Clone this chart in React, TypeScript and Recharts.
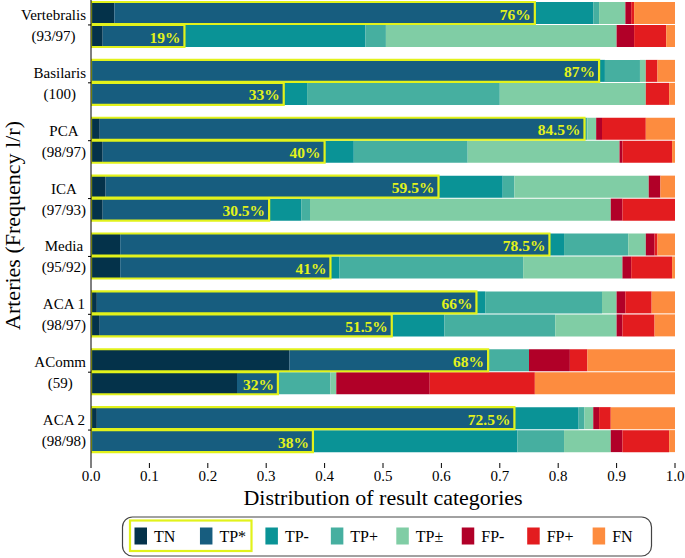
import React from 'react';
import { BarChart, Bar, XAxis, YAxis, LabelList } from 'recharts';

// ─── Data ───────────────────────────────────────────────────────────────────
const arteries = ['Vertebralis', 'Basilaris', 'PCA', 'ICA', 'Media', 'ACA 1', 'AComm', 'ACA 2'];
const frequencies = ['(93/97)', '(100)', '(98/97)', '(97/93)', '(95/92)', '(98/97)', '(59)', '(98/98)'];

const categories = ['TN', 'TP*', 'TP-', 'TP+', 'TP±', 'FP-', 'FP+', 'FN'];
const colors = ['#04324a', '#175d7f', '#0a9396', '#46afa0', '#80cda5', '#b10028', '#e31c1f', '#fd8c3f'];

// left side (l)
const tnL = [0.04, 0, 0.015, 0.025, 0.05, 0.01, 0.34, 0.01];
const tpStarL = [0.72, 0.87, 0.83, 0.57, 0.735, 0.65, 0.34, 0.715];
const tpMinusL = [0.1, 0.01, 0, 0.11, 0.025, 0.015, 0, 0.11];
const tpPlusL = [0.01, 0.06, 0.005, 0.02, 0.11, 0.2, 0.07, 0.01];
const tpPmL = [0.045, 0.01, 0.015, 0.23, 0.03, 0.025, 0, 0.015];
const fpMinusL = [0.01, 0, 0.01, 0.02, 0.015, 0.015, 0.07, 0.01];
const fpPlusL = [0.005, 0.02, 0.075, 0, 0.005, 0.045, 0.03, 0.02];
const fnL = [0.07, 0.03, 0.05, 0.025, 0.03, 0.04, 0.15, 0.11];

// right side (r)
const tnR = [0.02, 0, 0.02, 0.02, 0.05, 0.015, 0.25, 0];
const tpStarR = [0.14, 0.33, 0.38, 0.285, 0.36, 0.5, 0.07, 0.38];
const tpMinusR = [0.31, 0.04, 0.05, 0.055, 0.015, 0.09, 0, 0.35];
const tpPlusR = [0.035, 0.33, 0.195, 0.015, 0.315, 0.19, 0.09, 0.08];
const tpPmR = [0.395, 0.25, 0.26, 0.515, 0.17, 0.105, 0.01, 0.08];
const fpMinusR = [0.03, 0, 0.005, 0.02, 0.015, 0.01, 0.16, 0.02];
const fpPlusR = [0.055, 0.04, 0.085, 0.09, 0.07, 0.055, 0.18, 0.08];
const fnR = [0.015, 0.01, 0.005, 0, 0.005, 0.035, 0.24, 0.01];

// highlighted TN + TP* share
const labelsL = ['76%', '87%', '84.5%', '59.5%', '78.5%', '66%', '68%', '72.5%'];
const labelsR = ['19%', '33%', '40%', '30.5%', '41%', '51.5%', '32%', '38%'];

const xTicks = [0, 0.1, 0.2, 0.3, 0.4, 0.5, 0.6, 0.7, 0.8, 0.9, 1.0];

const leftSeries = [tnL, tpStarL, tpMinusL, tpPlusL, tpPmL, fpMinusL, fpPlusL, fnL];
const rightSeries = [tnR, tpStarR, tpMinusR, tpPlusR, tpPmR, fpMinusR, fpPlusR, fnR];

const data = arteries.map((name, i) => {
  const row: any = {
    name,
    boxL: tnL[i] + tpStarL[i],
    boxR: tnR[i] + tpStarR[i],
    labelL: labelsL[i],
    labelR: labelsR[i],
  };
  categories.forEach((_, k) => {
    row[`l${k}`] = leftSeries[k][i];
    row[`r${k}`] = rightSeries[k][i];
  });
  return row;
});

// ─── Styling ────────────────────────────────────────────────────────────────
const SERIF = '"Liberation Serif", "DejaVu Serif", serif';
const YELLOW = '#e2f21b';
const TICK_SIZE = 15;

let measureCtx: CanvasRenderingContext2D | null = null;
const textWidth = (t: string, font: string) => {
  if (!measureCtx) measureCtx = document.createElement('canvas').getContext('2d');
  if (!measureCtx) return t.length * 7;
  measureCtx.font = font;
  return measureCtx.measureText(t).width;
};

const ArteryTick = ({ x, y, payload }: any) => {
  const i = arteries.indexOf(payload.value);
  const lines = [payload.value, frequencies[i]];
  const w = Math.max(...lines.map((l) => textWidth(l, `${TICK_SIZE}px ${SERIF}`)));
  const cx = x - w / 2;
  return (
    <g>
      <text x={cx} y={y - 10} textAnchor="middle" dominantBaseline="central" fontFamily={SERIF} fontSize={TICK_SIZE} fill="#000">
        {lines[0]}
      </text>
      <text x={cx} y={y + 11} textAnchor="middle" dominantBaseline="central" fontFamily={SERIF} fontSize={TICK_SIZE} fill="#000">
        {lines[1]}
      </text>
    </g>
  );
};

const BoxLabel = ({ x, y, width, height, value }: any) => (
  <text
    x={x + width - 4}
    y={y + height / 2 + 1}
    textAnchor="end"
    dominantBaseline="central"
    fontFamily={SERIF}
    fontWeight="bold"
    fontSize={15.5}
    fill={YELLOW}
  >
    {value}
  </text>
);

// ─── Legend + titles overlay ────────────────────────────────────────────────
function Overlay() {
  return (
    <svg width={685} height={558} style={{ position: 'absolute', left: 0, top: 0, pointerEvents: 'none' }}>
      <text
        transform="translate(12,225.5) rotate(-90)"
        textAnchor="middle"
        dominantBaseline="central"
        fontFamily={SERIF}
        fontSize={22}
        fill="#000"
      >
        Arteries (Frequency l/r)
      </text>
      <text x={383} y={497} textAnchor="middle" dominantBaseline="central" fontFamily={SERIF} fontSize={22} fill="#000">
        Distribution of result categories
      </text>
      <rect x={122.5} y={517} width={529} height={39} rx={10} fill="#fff" stroke="#444" strokeWidth={1.2} />
      <rect x={130} y={520.5} width={121.5} height={30.5} fill="none" stroke={YELLOW} strokeWidth={2.2} />
      {categories.map((c, k) => {
        const sx = 134.5 + k * 65.45;
        return (
          <g key={c}>
            <rect x={sx} y={527.5} width={12.5} height={17} fill={colors[k]} />
            <text x={sx + 19.5} y={536.5} dominantBaseline="central" fontFamily={SERIF} fontSize={16} fill="#000">
              {c}
            </text>
          </g>
        );
      })}
    </svg>
  );
}

export default function App() {
  return (
    <div style={{ position: 'absolute', left: 0, top: 0, width: 685, height: 558, overflow: 'hidden', background: '#fff' }}>
      <div style={{ position: 'absolute', left: 0, top: -8 }}>
        <BarChart
          width={685}
          height={566}
          data={data}
          layout="vertical"
          margin={{ top: 0, right: 10, bottom: 65, left: 0 }}
          barCategoryGap={6}
          barGap={1}
        >
          <XAxis
            type="number"
            domain={[0, 1]}
            allowDataOverflow
            ticks={xTicks}
            interval={0}
            tickFormatter={(v: number) => v.toFixed(1)}
            axisLine={false}
            tickLine={{ stroke: '#000' }}
            tickSize={5}
            tickMargin={2}
            height={30}
            tick={{ fill: '#000', fontFamily: SERIF, fontSize: TICK_SIZE }}
          />
          <YAxis
            type="category"
            dataKey="name"
            width={91}
            interval={0}
            tickSize={3}
            tickMargin={2}
            axisLine={{ stroke: '#000' }}
            tickLine={{ stroke: '#000' }}
            tick={<ArteryTick />}
            padding={{ top: 4, bottom: 4 }}
          />
          <YAxis yAxisId="box" type="category" dataKey="name" hide padding={{ top: 4, bottom: 4 }} />
          {categories.map((c, k) => (
            <Bar key={`l${k}`} dataKey={`l${k}`} name={c} stackId="l" fill={colors[k]} isAnimationActive={false} />
          ))}
          {categories.map((c, k) => (
            <Bar key={`r${k}`} dataKey={`r${k}`} name={c} stackId="r" fill={colors[k]} isAnimationActive={false} />
          ))}
          <Bar yAxisId="box" dataKey="boxL" fill="none" stroke={YELLOW} strokeWidth={2.2} isAnimationActive={false}>
            <LabelList dataKey="labelL" content={<BoxLabel />} />
          </Bar>
          <Bar yAxisId="box" dataKey="boxR" fill="none" stroke={YELLOW} strokeWidth={2.2} isAnimationActive={false}>
            <LabelList dataKey="labelR" content={<BoxLabel />} />
          </Bar>
        </BarChart>
      </div>
      <Overlay />
    </div>
  );
}
